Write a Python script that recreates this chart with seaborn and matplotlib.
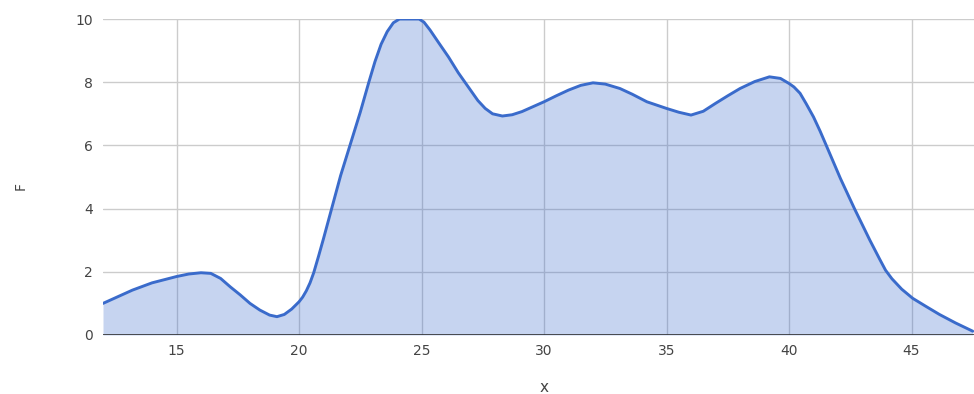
import seaborn as sns
import matplotlib.pyplot as plt

# values
x_vals = [12.0, 13.2, 14.0, 15.0, 15.5, 16.0, 16.4, 16.8, 17.2, 17.6, 18.0, 18.4, 18.8, 19.1,
          19.4, 19.7, 20.0, 20.15, 20.3, 20.45, 20.6, 20.8, 21.0, 21.35, 21.7, 22.1, 22.5,
          22.85, 23.1, 23.35, 23.6, 23.85, 24.1, 24.5, 24.9, 25.1, 25.35, 25.7, 26.1, 26.5,
          27.0, 27.3, 27.6, 27.9, 28.3, 28.7, 29.1, 30.0, 30.5, 31.0, 31.5, 32.0, 32.5, 33.1,
          33.6, 34.2, 35.0, 35.5, 36.0, 36.5, 37.0, 37.5, 38.0, 38.6, 39.2, 39.65, 40.0, 40.2,
          40.45, 40.7, 41.0, 41.27, 41.52, 42.1, 42.67, 43.3, 43.7, 43.94, 44.2, 44.6, 45.05,
          45.6, 46.14, 46.8, 47.5]
f_vals = [1.0, 1.42, 1.65, 1.85, 1.93, 1.97, 1.95, 1.79, 1.52, 1.27, 1.0, 0.79, 0.63, 0.58,
          0.65, 0.82, 1.05, 1.2, 1.4, 1.65, 1.97, 2.5, 3.05, 4.05, 5.05, 6.05, 7.05,
          8.0, 8.65, 9.2, 9.6, 9.88, 10.0, 10.0, 10.0, 9.9, 9.65, 9.25, 8.8, 8.3,
          7.75, 7.42, 7.17, 7.0, 6.93, 6.97, 7.07, 7.38, 7.57, 7.75, 7.9, 7.98, 7.94, 7.8,
          7.62, 7.38, 7.17, 7.05, 6.96, 7.08, 7.33, 7.57, 7.8, 8.02, 8.17, 8.12, 7.96, 7.85,
          7.65, 7.32, 6.9, 6.45, 6.0, 4.95, 4.0, 3.0, 2.4, 2.05, 1.78, 1.45, 1.16,
          0.9, 0.65, 0.38, 0.12]
x_ticks = [15, 20, 25, 30, 35, 40, 45]
y_ticks = [0, 2, 4, 6, 8, 10]

sns.set_style("white")
plt.rcParams['font.family'] = ['DejaVu Sans']

fig = plt.figure(figsize=(9.74, 3.94), dpi=100)
ax = fig.add_axes([103 / 974, 1 - 335 / 394, 1 - 103 / 974, (335 - 19) / 394])

line_color = '#3a6bcb'
ax.fill_between(x_vals, f_vals, 0, color='#3366cc', alpha=0.28, linewidth=0, zorder=2)
sns.lineplot(x=x_vals, y=f_vals, color=line_color, linewidth=2.1, ax=ax, zorder=3,
             solid_joinstyle='round', solid_capstyle='round')

ax.set_xlim(12, 47.55)
ax.set_ylim(0, 10)
ax.set_xticks(x_ticks)
ax.set_yticks(y_ticks)
ax.grid(True, color='#cccccc', linewidth=1, zorder=1)
ax.set_axisbelow(True)
ax.axhline(0, color='#333333', linewidth=1.2, zorder=4)
for s in ax.spines.values():
    s.set_visible(False)
ax.tick_params(axis='both', length=0, labelsize=10, colors='#444444')
ax.tick_params(axis='x', pad=6.5)
ax.tick_params(axis='y', pad=7.5)
ax.set_xlabel('')
ax.set_ylabel('')
fig.text(544.5 / 974, 1 - 387 / 394, 'x', fontsize=11, color='#444444', ha='center', va='center')
fig.text(21 / 974, 1 - 186 / 394, 'F', fontsize=10, color='#444444', ha='center', va='center',
         rotation=90)

plt.savefig('out.png', dpi=100)
